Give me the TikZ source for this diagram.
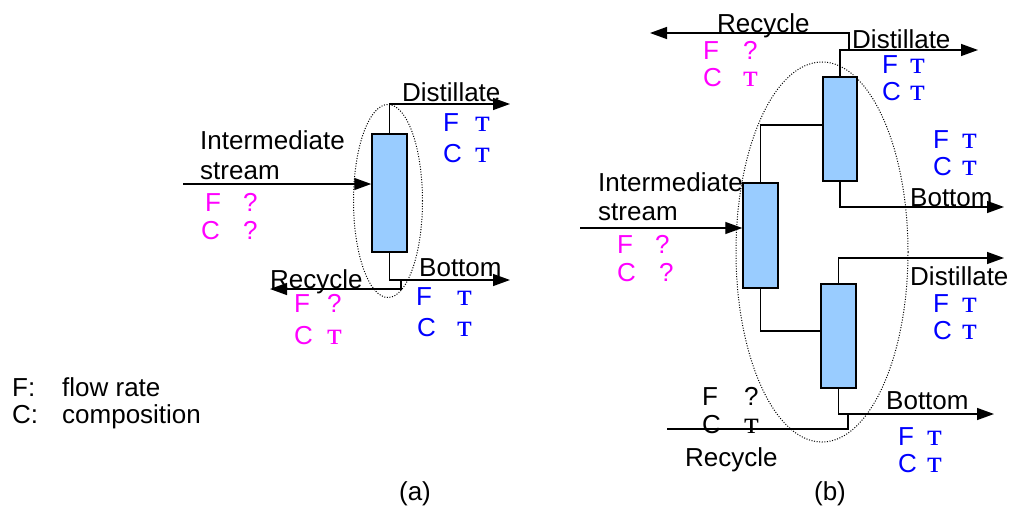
\documentclass[tikz,border=0pt]{standalone}
\usepackage{fontspec}
\usepackage{graphicx}
\setmainfont{Liberation Sans}
\newfontfamily\serifcyr{Liberation Serif}
\usetikzlibrary{arrows.meta}
\definecolor{mag}{HTML}{FF00FF}
\definecolor{blu}{HTML}{0000FF}
\definecolor{colfill}{HTML}{99CCFF}
\newcommand\tk{{\serifcyr\scalebox{1.3}[1.2]{т}}}
\begin{document}
\begin{tikzpicture}[x=1pt,y=-1pt,
  txt/.style={anchor=base west,inner sep=0pt,font=\fontsize{26}{29}\selectfont},
  colbox/.style={draw=black,fill=colfill,line width=1.5pt,inner sep=0pt},
  pipe/.style={line width=1.4pt},
  arr/.style={pipe,-{Triangle[length=17pt,width=12pt]}},
  env/.style={line width=1pt,dash pattern=on 1pt off 1.6pt}]
\useasboundingbox (0,0) rectangle (1010,506);
% ---------------- (a) ----------------
\node[colbox,minimum width=35pt,minimum height=118pt] (ca) at (389.5,193) {};
\coordinate (aDt) at (510,104);
\coordinate (aIn) at (183,184);
\coordinate (aBt) at (510,280);
\coordinate (aRs) at (401,280);
\coordinate (aRc) at (270,289);
\draw[arr] (ca.north) |- (aDt);
\draw[arr] (aIn) -- (ca.west |- aIn);
\draw[arr] (ca.south) |- (aBt);
\draw[arr] (aRs) |- (aRc);
\draw[env] (388,201) ellipse [x radius=34.5pt, y radius=96.5pt];
\node[txt] (aDl) at (402,101) {Distillate};
\node[txt,text=blu] (aDF) at (443,131) {F};
\node[txt,text=blu] (aDFv) at (475,131) {\tk};
\node[txt,text=blu] (aDC) at (443,162) {C};
\node[txt,text=blu] (aDCv) at (475,162) {\tk};
\node[txt] (aIl1) at (200,149) {Intermediate};
\node[txt] (aIl2) at (200,179) {stream};
\node[txt,text=mag] (aIF) at (205,211) {F};
\node[txt,text=mag] (aIFv) at (243,211) {?};
\node[txt,text=mag] (aIC) at (201,239) {C};
\node[txt,text=mag] (aICv) at (243,239) {?};
\node[txt] (aRl) at (270,288) {Recycle};
\node[txt,text=mag] (aRF) at (294,312) {F};
\node[txt,text=mag] (aRFv) at (327,312) {?};
\node[txt,text=mag] (aRC) at (294,344) {C};
\node[txt,text=mag] (aRCv) at (327,344) {\tk};
\node[txt] (aBl) at (419,276) {Bottom};
\node[txt,text=blu] (aBF) at (416,305) {F};
\node[txt,text=blu] (aBFv) at (457,305) {\tk};
\node[txt,text=blu] (aBC) at (417,336) {C};
\node[txt,text=blu] (aBCv) at (457,336) {\tk};
% legend
\node[txt] (lF) at (12,396) {F:};
\node[txt] (lFt) at (62,396) {flow rate};
\node[txt] (lC) at (12,423) {C:};
\node[txt] (lCt) at (62,423) {composition};
\node[txt,anchor=base] (capa) at (415,500) {(a)};
\node[txt,anchor=base] (capb) at (830,500) {(b)};
% ---------------- (b) ----------------
\node[colbox,minimum width=34pt,minimum height=104pt] (cu) at (840,129) {};
\node[colbox,minimum width=35pt,minimum height=105pt] (cl) at (760.5,235.5) {};
\node[colbox,minimum width=35pt,minimum height=104pt] (cr) at (838.5,336) {};
\coordinate (uL) at (823,125);
\coordinate (rL) at (821,331);
\coordinate (bDt1) at (978,50);
\coordinate (bRs1) at (849,50);
\coordinate (bRc1) at (650,33);
\coordinate (bBt1) at (1004,207);
\coordinate (bDt2) at (1004,258);
\coordinate (bBt2) at (994,414);
\coordinate (bRs2) at (848,414);
\coordinate (bRc2) at (667,429);
\coordinate (bIn) at (580,228);
\draw[pipe] (cl.north) |- (uL);
\draw[pipe] (cl.south) |- (rL);
\draw[arr] (cu.north) |- (bDt1);
\draw[arr] (bRs1) |- (bRc1);
\draw[arr] (cu.south) |- (bBt1);
\draw[arr] (cr.north) |- (bDt2);
\draw[arr] (cr.south) |- (bBt2);
\draw[pipe] (bRs2) |- (bRc2);
\draw[arr] (bIn) -- (cl.west |- bIn);
\draw[env] (822,252) ellipse [x radius=86pt, y radius=190pt];
\node[txt] (bRl1) at (717,32) {Recycle};
\node[txt,text=mag] (bR1F) at (703,59) {F};
\node[txt,text=mag] (bR1Fv) at (743,59) {?};
\node[txt,text=mag] (bR1C) at (703,86) {C};
\node[txt,text=mag] (bR1Cv) at (743,86) {\tk};
\node[txt] (bDl1) at (852,48) {Distillate};
\node[txt,text=blu] (bD1F) at (882,73) {F};
\node[txt,text=blu] (bD1Fv) at (910,73) {\tk};
\node[txt,text=blu] (bD1C) at (882,100) {C};
\node[txt,text=blu] (bD1Cv) at (910,100) {\tk};
\node[txt,text=blu] (bB1F) at (933,148) {F};
\node[txt,text=blu] (bB1Fv) at (962,148) {\tk};
\node[txt,text=blu] (bB1C) at (933,175) {C};
\node[txt,text=blu] (bB1Cv) at (962,175) {\tk};
\node[txt] (bBl1) at (910,206) {Bottom};
\node[txt] (bIl1) at (598,191) {Intermediate};
\node[txt] (bIl2) at (598,220) {stream};
\node[txt,text=mag] (bIF) at (617,253) {F};
\node[txt,text=mag] (bIFv) at (655,253) {?};
\node[txt,text=mag] (bIC) at (617,281) {C};
\node[txt,text=mag] (bICv) at (659,281) {?};
\node[txt] (bDl2) at (910,285) {Distillate};
\node[txt,text=blu] (bD2F) at (933,312) {F};
\node[txt,text=blu] (bD2Fv) at (962,312) {\tk};
\node[txt,text=blu] (bD2C) at (933,339) {C};
\node[txt,text=blu] (bD2Cv) at (962,339) {\tk};
\node[txt] (bR2F) at (702,405) {F};
\node[txt] (bR2Fv) at (744,405) {?};
\node[txt] (bR2C) at (702,433) {C};
\node[txt] (bR2Cv) at (744,433) {\tk};
\node[txt] (bRl2) at (685,466) {Recycle};
\node[txt] (bBl2) at (886,409) {Bottom};
\node[txt,text=blu] (bB2F) at (898,445) {F};
\node[txt,text=blu] (bB2Fv) at (927,445) {\tk};
\node[txt,text=blu] (bB2C) at (898,472) {C};
\node[txt,text=blu] (bB2Cv) at (927,472) {\tk};
\end{tikzpicture}
\end{document}
